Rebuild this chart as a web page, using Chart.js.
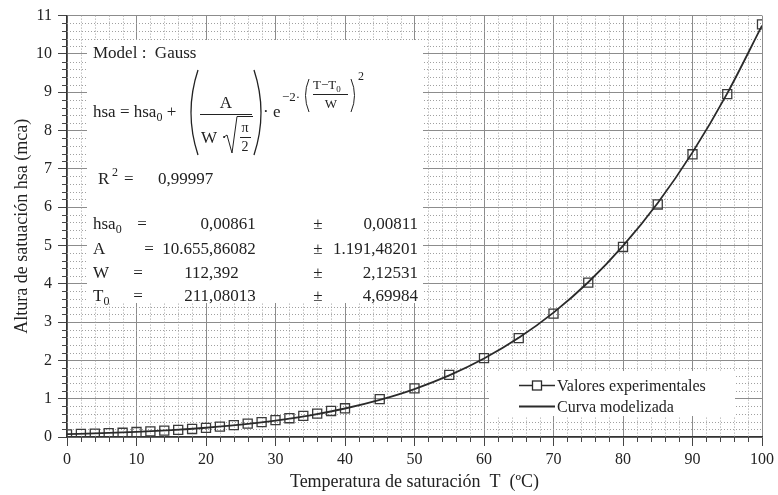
<!DOCTYPE html>
<html>
<head>
<meta charset="utf-8">
<title>Altura de saturación</title>
<script src="https://cdn.jsdelivr.net/npm/chart.js@4.4.0/dist/chart.umd.min.js"></script>
<style>
  html, body { margin: 0; padding: 0; background: #ffffff; }
  #wrap { width: 778px; height: 495px; }
</style>
</head>
<body>
<div id="wrap"><canvas id="hsa-chart" width="778" height="495"></canvas></div>
<script>
// Experimental points: saturation temperature (ºC) and saturation head (mca)
const tempExp = [0, 2, 4, 6, 8, 10, 12, 14, 16, 18, 20, 22, 24, 26, 28, 30, 32, 34, 36, 38, 40,
                 45, 50, 55, 60, 65, 70, 75, 80, 85, 90, 95, 100];
const hsaExp = [0.07, 0.08, 0.09, 0.10, 0.11, 0.13, 0.145, 0.165, 0.185, 0.21, 0.24, 0.27, 0.31, 0.35, 0.39, 0.44, 0.49, 0.55, 0.61, 0.68, 0.75,
                0.99, 1.27, 1.62, 2.06, 2.58, 3.22, 4.03, 4.96, 6.07, 7.38, 8.95, 10.77];

// Fitted Gauss curve, read every 5 ºC
const tempCurve = [0, 5, 10, 15, 20, 25, 30, 35, 40, 45, 50, 55, 60, 65, 70, 75, 80, 85, 90, 95, 100];
const hsaCurve = [0.074, 0.100, 0.134, 0.180, 0.242, 0.323, 0.429, 0.567, 0.744, 0.969, 1.252,
                  1.607, 2.047, 2.588, 3.247, 4.04, 4.99, 6.11, 7.43, 8.97, 10.74];

// Axis ticks
const xTicks = [0, 10, 20, 30, 40, 50, 60, 70, 80, 90, 100];
const yTicks = [0, 1, 2, 3, 4, 5, 6, 7, 8, 9, 10, 11];

// Fit results
const r2Text = '0,99997';
const paramNames = ['hsa', 'A', 'W', 'T'];
const paramSubs = ['0', '', '', '0'];
const paramValues = ['0,00861', '10.655,86082', '112,392', '211,08013'];
const paramErrors = ['0,00811', '1.191,48201', '2,12531', '4,69984'];

const SERIF = '"Liberation Serif", "Times New Roman", serif';
const INK = '#222222';

function txt(ctx, s, x, y, size, align) {
    ctx.font = size + 'px ' + SERIF;
    ctx.textAlign = align || 'left';
    ctx.textBaseline = 'alphabetic';
    ctx.fillText(s, x, y);
    return ctx.measureText(s).width;
}

function paren(ctx, x0, y0, bulge, y1) {
    ctx.beginPath();
    ctx.moveTo(x0, y0);
    ctx.quadraticCurveTo(bulge, (y0 + y1) / 2, x0, y1);
    ctx.stroke();
}

// Dotted minor grid plus the short minor tick marks
const minorGridPlugin = {
    id: 'minorGrid',
    beforeDatasetsDraw(chart) {
        const { ctx, chartArea: a, scales: { x, y } } = chart;
        ctx.save();
        ctx.strokeStyle = '#a0a0a0';
        ctx.lineWidth = 1;
        ctx.setLineDash([1, 2]);
        for (let v = 2; v < 100; v += 2) {
            if (v % 10 === 0) continue;
            const px = Math.round(x.getPixelForValue(v)) + 0.5;
            ctx.beginPath(); ctx.moveTo(px, a.top); ctx.lineTo(px, a.bottom); ctx.stroke();
        }
        for (let i = 1; i < 55; i++) {
            if (i % 5 === 0) continue;
            const py = Math.round(y.getPixelForValue(i * 0.2)) + 0.5;
            ctx.beginPath(); ctx.moveTo(a.left, py); ctx.lineTo(a.right, py); ctx.stroke();
        }
        ctx.setLineDash([]);
        ctx.strokeStyle = '#444';
        for (let v = 2; v < 100; v += 2) {
            if (v % 10 === 0) continue;
            const px = Math.round(x.getPixelForValue(v)) + 0.5;
            ctx.beginPath(); ctx.moveTo(px, a.bottom); ctx.lineTo(px, a.bottom + 5); ctx.stroke();
        }
        for (let i = 1; i < 55; i++) {
            if (i % 5 === 0) continue;
            const py = Math.round(y.getPixelForValue(i * 0.2)) + 0.5;
            ctx.beginPath(); ctx.moveTo(a.left, py); ctx.lineTo(a.left - 5, py); ctx.stroke();
        }
        ctx.restore();
    }
};

// White panel with the model equation and fitted parameters
const fitBoxPlugin = {
    id: 'fitBox',
    beforeDatasetsDraw(chart) {
        const ctx = chart.ctx;
        ctx.save();
        ctx.fillStyle = '#ffffff';
        ctx.fillRect(87, 40, 336, 263);
        ctx.fillStyle = INK;
        ctx.strokeStyle = INK;

        txt(ctx, 'Model :  Gauss', 93, 58, 17);

        let x = 93;
        x += txt(ctx, 'hsa = hsa', x, 117, 17);
        x += txt(ctx, '0', x, 121, 12);
        txt(ctx, ' +', x, 117, 17);

        // big brackets around A / (W·sqrt(pi/2))
        ctx.lineWidth = 1.3;
        paren(ctx, 198, 70, 184, 155);
        paren(ctx, 254, 70, 268, 155);

        txt(ctx, 'A', 226, 108, 17, 'center');
        ctx.lineWidth = 1;
        ctx.beginPath(); ctx.moveTo(200, 114.5); ctx.lineTo(252, 114.5); ctx.stroke();
        txt(ctx, 'W ·', 201, 143, 17);
        ctx.beginPath();
        ctx.moveTo(224, 137); ctx.lineTo(227, 135); ctx.lineTo(232, 153);
        ctx.lineTo(237, 116.5); ctx.lineTo(253, 116.5);
        ctx.stroke();
        txt(ctx, 'π', 245, 132, 14, 'center');
        ctx.beginPath(); ctx.moveTo(240, 137.5); ctx.lineTo(251, 137.5); ctx.stroke();
        txt(ctx, '2', 245, 151, 14, 'center');

        txt(ctx, '· e', 263, 117, 17);

        // exponent  -2·((T-T0)/W)^2
        txt(ctx, '−2·', 282, 101, 13);
        ctx.lineWidth = 1;
        paren(ctx, 309, 79, 302, 112);
        let ex = 313;
        ex += txt(ctx, 'T−T', ex, 89, 13);
        txt(ctx, '0', ex, 92, 9);
        ctx.beginPath(); ctx.moveTo(313, 94.5); ctx.lineTo(348, 94.5); ctx.stroke();
        txt(ctx, 'W', 331, 108, 13, 'center');
        paren(ctx, 351, 79, 358, 112);
        txt(ctx, '2', 358, 80, 12);

        // coefficient of determination
        txt(ctx, 'R', 98, 184, 17);
        txt(ctx, '2', 112, 176, 12);
        txt(ctx, '=', 124, 184, 17);
        txt(ctx, r2Text, 158, 184, 17);

        // parameter table, values aligned on the decimal comma
        const rowY = [229, 254, 278, 301];
        const eqX = [142, 149, 138, 138];
        const commaX = 209;
        paramNames.forEach((name, i) => {
            const by = rowY[i];
            const w = txt(ctx, name, 93, by, 17);
            if (paramSubs[i]) txt(ctx, paramSubs[i], 93 + w, by + 4, 12);
            txt(ctx, '=', eqX[i], by, 17, 'center');
            const parts = paramValues[i].split(',');
            txt(ctx, parts[0], commaX, by, 17, 'right');
            txt(ctx, ',' + parts[1], commaX, by, 17, 'left');
            txt(ctx, '±', 318, by, 17, 'center');
            txt(ctx, paramErrors[i], 418, by, 17, 'right');
        });
        ctx.restore();
    }
};

// Legend panel in the lower right corner
const legendBoxPlugin = {
    id: 'legendBox',
    beforeDatasetsDraw(chart) {
        const ctx = chart.ctx;
        ctx.save();
        ctx.fillStyle = '#ffffff';
        ctx.fillRect(489, 371, 246, 45);
        ctx.strokeStyle = '#2b2b2b';
        ctx.lineWidth = 1.3;
        ctx.beginPath(); ctx.moveTo(519, 385.5); ctx.lineTo(555, 385.5); ctx.stroke();
        ctx.fillStyle = '#ffffff';
        ctx.fillRect(532.5, 381, 9, 9);
        ctx.strokeRect(532.5, 381, 9, 9);
        ctx.lineWidth = 1.8;
        ctx.beginPath(); ctx.moveTo(519, 406.5); ctx.lineTo(555, 406.5); ctx.stroke();
        ctx.fillStyle = INK;
        txt(ctx, 'Valores experimentales', 557, 391, 16);
        txt(ctx, 'Curva modelizada', 557, 412, 16);
        ctx.restore();
    }
};

const canvas = document.getElementById('hsa-chart');
new Chart(canvas, {
    type: 'line',
    data: {
        datasets: [
            {
                label: 'Curva modelizada',
                data: tempCurve.map((t, i) => ({ x: t, y: hsaCurve[i] })),
                borderColor: '#2b2b2b',
                borderWidth: 1.8,
                pointRadius: 0,
                cubicInterpolationMode: 'monotone',
                fill: false
            },
            {
                label: 'Valores experimentales',
                data: tempExp.map((t, i) => ({ x: t, y: hsaExp[i] })),
                showLine: false,
                pointStyle: 'rect',
                pointRadius: 6.4,
                pointBorderWidth: 1.3,
                pointBorderColor: '#3a3a3a',
                pointBackgroundColor: 'rgba(0,0,0,0)'
            }
        ]
    },
    plugins: [minorGridPlugin, fitBoxPlugin, legendBoxPlugin],
    options: {
        responsive: false,
        animation: false,
        devicePixelRatio: 1,
        layout: { padding: { top: 15, right: 11, left: 0, bottom: 0 } },
        plugins: { legend: { display: false }, tooltip: { enabled: false } },
        scales: {
            x: {
                type: 'linear',
                min: 0,
                max: 100,
                afterFit(scale) { scale.height = 58; },
                afterBuildTicks(scale) { scale.ticks = xTicks.map(v => ({ value: v })); },
                ticks: { color: INK, font: { family: SERIF, size: 16 }, padding: 4, maxRotation: 0, autoSkip: false },
                grid: { color: '#8c8c8c', lineWidth: 1, tickLength: 9, tickColor: '#444' },
                border: { color: '#333', width: 1.5 },
                title: {
                    display: true,
                    text: 'Temperatura de saturación  T  (ºC)',
                    color: INK,
                    font: { family: SERIF, size: 18 },
                    padding: { top: 0, bottom: 2 }
                }
            },
            y: {
                type: 'linear',
                min: 0,
                max: 11,
                afterFit(scale) { scale.width = 67; },
                afterBuildTicks(scale) { scale.ticks = yTicks.map(v => ({ value: v })); },
                ticks: { color: INK, font: { family: SERIF, size: 16 }, padding: 6, autoSkip: false },
                grid: { color: '#8c8c8c', lineWidth: 1, tickLength: 9, tickColor: '#444' },
                border: { color: '#333', width: 1.5 },
                title: {
                    display: true,
                    text: 'Altura de satuación hsa (mca)',
                    color: INK,
                    font: { family: SERIF, size: 18 },
                    padding: { top: 11, bottom: 0 }
                }
            }
        }
    }
});
</script>
</body>
</html>
